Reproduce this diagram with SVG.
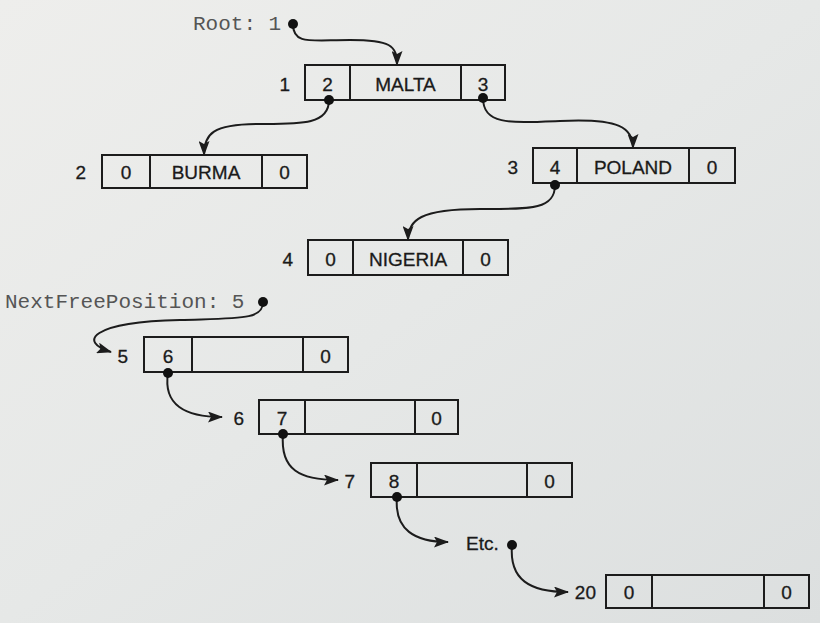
<svg xmlns="http://www.w3.org/2000/svg" width="820" height="623" viewBox="0 0 820 623">
<defs>
<linearGradient id="bg" x1="0" y1="0" x2="1" y2="1">
<stop offset="0" stop-color="#eeeeec"/>
<stop offset="0.5" stop-color="#e6e8e7"/>
<stop offset="1" stop-color="#dcdfdf"/>
</linearGradient>
<marker id="arr" markerWidth="15" markerHeight="11" refX="14" refY="5.5" orient="auto" markerUnits="userSpaceOnUse">
<path d="M0,0 L15,5.5 L0,11 L3,5.5 Z" fill="#1c1c1c"/>
</marker>
<style>
.box{fill:none;stroke:#1c1c1c;stroke-width:2}
.div{stroke:#1c1c1c;stroke-width:2}
.t{font-family:"Liberation Sans",Arial,sans-serif;font-size:19px;fill:#1a1a1a;stroke:#1a1a1a;stroke-width:0.3;text-anchor:middle}
.lbl{font-family:"Liberation Sans",Arial,sans-serif;font-size:19px;fill:#1a1a1a;stroke:#1a1a1a;stroke-width:0.3;text-anchor:end}
.mono{font-family:"Liberation Mono","Courier New",monospace;font-size:21px;fill:#555}
.con{fill:none;stroke:#1c1c1c;stroke-width:2;marker-end:url(#arr)}
.dot{fill:#111}
</style>
</defs>
<rect x="0" y="0" width="820" height="623" fill="url(#bg)"/>

<g id="root-label">
<text class="mono" x="193" y="30">Root: 1</text>
</g>
<g id="nextfree-label">
<text class="mono" x="5" y="308">NextFreePosition: 5</text>
</g>

<g id="node1">
<rect class="box" x="305" y="65" width="200" height="35"/>
<line class="div" x1="350" y1="65" x2="350" y2="100"/>
<line class="div" x1="461" y1="65" x2="461" y2="100"/>
<text class="lbl" x="290" y="91">1</text>
<text class="t" x="327.5" y="91">2</text>
<text class="t" x="405.5" y="91">MALTA</text>
<text class="t" x="483" y="91">3</text>
</g>
<g id="node2">
<rect class="box" x="102" y="155" width="205" height="33"/>
<line class="div" x1="150" y1="155" x2="150" y2="188"/>
<line class="div" x1="262" y1="155" x2="262" y2="188"/>
<text class="lbl" x="86" y="179">2</text>
<text class="t" x="126" y="179">0</text>
<text class="t" x="206" y="179">BURMA</text>
<text class="t" x="284.5" y="179">0</text>
</g>
<g id="node3">
<rect class="box" x="533" y="148" width="202" height="35"/>
<line class="div" x1="577" y1="148" x2="577" y2="183"/>
<line class="div" x1="689" y1="148" x2="689" y2="183"/>
<text class="lbl" x="518" y="174">3</text>
<text class="t" x="555" y="174">4</text>
<text class="t" x="633" y="174">POLAND</text>
<text class="t" x="712" y="174">0</text>
</g>
<g id="node4">
<rect class="box" x="308" y="240" width="200" height="35"/>
<line class="div" x1="353" y1="240" x2="353" y2="275"/>
<line class="div" x1="463" y1="240" x2="463" y2="275"/>
<text class="lbl" x="293" y="266">4</text>
<text class="t" x="330.5" y="266">0</text>
<text class="t" x="408" y="266">NIGERIA</text>
<text class="t" x="485.5" y="266">0</text>
</g>
<g id="node5">
<rect class="box" x="144" y="337" width="204" height="35"/>
<line class="div" x1="192" y1="337" x2="192" y2="372"/>
<line class="div" x1="303" y1="337" x2="303" y2="372"/>
<text class="lbl" x="128" y="363">5</text>
<text class="t" x="168" y="363">6</text>
<text class="t" x="325.5" y="363">0</text>
</g>
<g id="node6">
<rect class="box" x="259" y="400" width="199" height="34"/>
<line class="div" x1="305" y1="400" x2="305" y2="434"/>
<line class="div" x1="415" y1="400" x2="415" y2="434"/>
<text class="lbl" x="244" y="425">6</text>
<text class="t" x="282" y="425">7</text>
<text class="t" x="436.5" y="425">0</text>
</g>
<g id="node7">
<rect class="box" x="371" y="463" width="201" height="34"/>
<line class="div" x1="417" y1="463" x2="417" y2="497"/>
<line class="div" x1="527" y1="463" x2="527" y2="497"/>
<text class="lbl" x="355" y="488">7</text>
<text class="t" x="394" y="488">8</text>
<text class="t" x="549.5" y="488">0</text>
</g>
<g id="etc">
<text class="lbl" x="466" y="550" style="text-anchor:start">Etc.</text>
</g>
<g id="node20">
<rect class="box" x="606" y="575" width="203" height="33"/>
<line class="div" x1="652" y1="575" x2="652" y2="608"/>
<line class="div" x1="764" y1="575" x2="764" y2="608"/>
<text class="lbl" x="596" y="599">20</text>
<text class="t" x="629" y="599">0</text>
<text class="t" x="786.5" y="599">0</text>
</g>

<g id="connectors">
<path class="con" d="M293,24 C293,45 310,40 350,40 C390,40 397,45 397,65"/>
<path class="con" d="M329,100 C329,125 300,124 260,124 C212,124 204,134 204,155"/>
<path class="con" d="M483,98 C483,125 510,123 560,121 C620,118 633,128 633,148"/>
<path class="con" d="M555,185 C555,210 530,209 480,209 C420,209 408,220 408,240"/>
<path class="con" d="M263,302 C263,320 240,318 180,320 C90,322 78,342 111,352"/>
<path class="con" d="M168,373 C163,405 185,417 222,417"/>
<path class="con" d="M283,434 C280,470 300,480 338,480"/>
<path class="con" d="M397,497 C394,530 415,542 448,542"/>
<path class="con" d="M512,545 C509,580 530,592 568,592"/>
<circle class="dot" cx="293" cy="24" r="5"/>
<circle class="dot" cx="329" cy="100" r="5"/>
<circle class="dot" cx="483" cy="98" r="5"/>
<circle class="dot" cx="555" cy="185" r="5"/>
<circle class="dot" cx="263" cy="302" r="5"/>
<circle class="dot" cx="168" cy="373" r="5"/>
<circle class="dot" cx="283" cy="434" r="5"/>
<circle class="dot" cx="397" cy="497" r="5"/>
<circle class="dot" cx="512" cy="545" r="5"/>
</g>
</svg>
